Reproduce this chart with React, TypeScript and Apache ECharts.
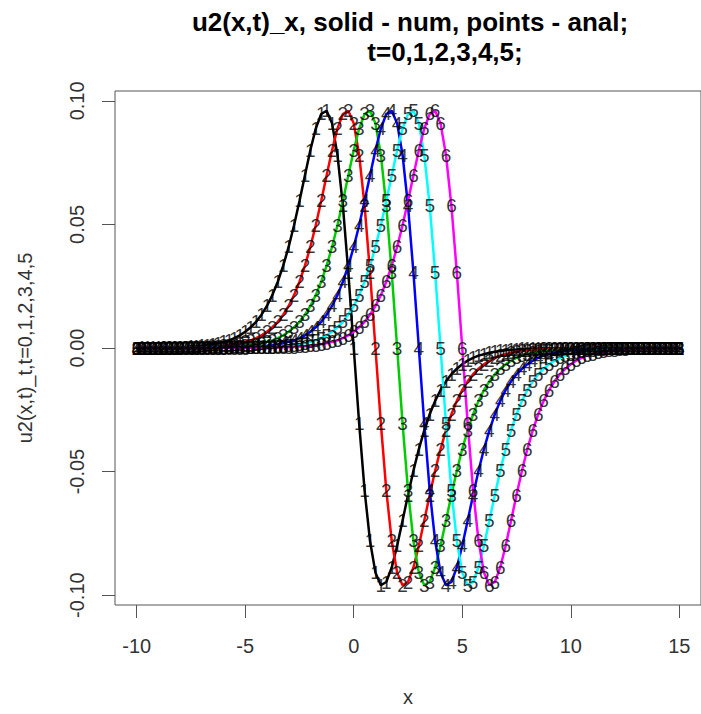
import { useEffect, useRef } from "react";
import * as echarts from "echarts";

// x grid of the sampled points
const xValues = [
  -10, -9.75, -9.5, -9.25, -9, -8.75, -8.5, -8.25, -8, -7.75,
  -7.5, -7.25, -7, -6.75, -6.5, -6.25, -6, -5.75, -5.5, -5.25,
  -5, -4.75, -4.5, -4.25, -4, -3.75, -3.5, -3.25, -3, -2.75,
  -2.5, -2.25, -2, -1.75, -1.5, -1.25, -1, -0.75, -0.5, -0.25,
  0,
  0.25, 0.5, 0.75, 1, 1.25, 1.5, 1.75, 2, 2.25, 2.5,
  2.75, 3, 3.25, 3.5, 3.75, 4, 4.25, 4.5, 4.75, 5,
  5.25, 5.5, 5.75, 6, 6.25, 6.5, 6.75, 7, 7.25, 7.5,
  7.75, 8, 8.25, 8.5, 8.75, 9, 9.25, 9.5, 9.75, 10,
  10.25, 10.5, 10.75, 11, 11.25, 11.5, 11.75, 12, 12.25, 12.5,
  12.75, 13, 13.25, 13.5, 13.75, 14, 14.25, 14.5, 14.75, 15,
];

// u2(x,t)_x, t = 0
const uT0 = [
  0, 0.0001, 0.0001, 0.0001, 0.0001, 0.0002, 0.0002, 0.0003, 0.0003, 0.0004,
  0.0006, 0.0007, 0.0009, 0.0012, 0.0015, 0.0019, 0.0025, 0.0031, 0.004, 0.0051,
  0.0066, 0.0084, 0.0106, 0.0135, 0.017, 0.0214, 0.0268, 0.0333, 0.0409, 0.0497,
  0.0595, 0.0698, 0.08, 0.0888, 0.0947, 0.096, 0.0909, 0.0781, 0.0576, 0.0306,
  0,
  -0.0306, -0.0576, -0.0781, -0.0909, -0.096, -0.0947, -0.0888, -0.08, -0.0698, -0.0595,
  -0.0497, -0.0409, -0.0333, -0.0268, -0.0214, -0.017, -0.0135, -0.0106, -0.0084, -0.0066,
  -0.0051, -0.004, -0.0031, -0.0025, -0.0019, -0.0015, -0.0012, -0.0009, -0.0007, -0.0006,
  -0.0004, -0.0003, -0.0003, -0.0002, -0.0002, -0.0001, -0.0001, -0.0001, -0.0001, 0,
  0, 0, 0, 0, 0, 0, 0, 0, 0, 0,
  0, 0, 0, 0, 0, 0, 0, 0, 0, 0,
];

// t = 1
const uT1 = [
  0, 0, 0, 0,
  0, 0.0001, 0.0001, 0.0001, 0.0001, 0.0002, 0.0002, 0.0003, 0.0003, 0.0004,
  0.0006, 0.0007, 0.0009, 0.0012, 0.0015, 0.0019, 0.0025, 0.0031, 0.004, 0.0051,
  0.0066, 0.0084, 0.0106, 0.0135, 0.017, 0.0214, 0.0268, 0.0333, 0.0409, 0.0497,
  0.0595, 0.0698, 0.08, 0.0888, 0.0947, 0.096, 0.0909, 0.0781, 0.0576, 0.0306,
  0,
  -0.0306, -0.0576, -0.0781, -0.0909, -0.096, -0.0947, -0.0888, -0.08, -0.0698, -0.0595,
  -0.0497, -0.0409, -0.0333, -0.0268, -0.0214, -0.017, -0.0135, -0.0106, -0.0084, -0.0066,
  -0.0051, -0.004, -0.0031, -0.0025, -0.0019, -0.0015, -0.0012, -0.0009, -0.0007, -0.0006,
  -0.0004, -0.0003, -0.0003, -0.0002, -0.0002, -0.0001, -0.0001, -0.0001, -0.0001, 0,
  0, 0, 0, 0, 0, 0, 0, 0, 0, 0,
  0, 0, 0, 0, 0, 0,
];

// t = 2
const uT2 = [
  0, 0, 0, 0, 0, 0, 0, 0,
  0, 0.0001, 0.0001, 0.0001, 0.0001, 0.0002, 0.0002, 0.0003, 0.0003, 0.0004,
  0.0006, 0.0007, 0.0009, 0.0012, 0.0015, 0.0019, 0.0025, 0.0031, 0.004, 0.0051,
  0.0066, 0.0084, 0.0106, 0.0135, 0.017, 0.0214, 0.0268, 0.0333, 0.0409, 0.0497,
  0.0595, 0.0698, 0.08, 0.0888, 0.0947, 0.096, 0.0909, 0.0781, 0.0576, 0.0306,
  0,
  -0.0306, -0.0576, -0.0781, -0.0909, -0.096, -0.0947, -0.0888, -0.08, -0.0698, -0.0595,
  -0.0497, -0.0409, -0.0333, -0.0268, -0.0214, -0.017, -0.0135, -0.0106, -0.0084, -0.0066,
  -0.0051, -0.004, -0.0031, -0.0025, -0.0019, -0.0015, -0.0012, -0.0009, -0.0007, -0.0006,
  -0.0004, -0.0003, -0.0003, -0.0002, -0.0002, -0.0001, -0.0001, -0.0001, -0.0001, 0,
  0, 0, 0, 0, 0, 0, 0, 0, 0, 0,
  0, 0,
];

// t = 3
const uT3 = [
  0, 0, 0, 0, 0, 0, 0, 0, 0, 0, 0, 0,
  0, 0.0001, 0.0001, 0.0001, 0.0001, 0.0002, 0.0002, 0.0003, 0.0003, 0.0004,
  0.0006, 0.0007, 0.0009, 0.0012, 0.0015, 0.0019, 0.0025, 0.0031, 0.004, 0.0051,
  0.0066, 0.0084, 0.0106, 0.0135, 0.017, 0.0214, 0.0268, 0.0333, 0.0409, 0.0497,
  0.0595, 0.0698, 0.08, 0.0888, 0.0947, 0.096, 0.0909, 0.0781, 0.0576, 0.0306,
  0,
  -0.0306, -0.0576, -0.0781, -0.0909, -0.096, -0.0947, -0.0888, -0.08, -0.0698, -0.0595,
  -0.0497, -0.0409, -0.0333, -0.0268, -0.0214, -0.017, -0.0135, -0.0106, -0.0084, -0.0066,
  -0.0051, -0.004, -0.0031, -0.0025, -0.0019, -0.0015, -0.0012, -0.0009, -0.0007, -0.0006,
  -0.0004, -0.0003, -0.0003, -0.0002, -0.0002, -0.0001, -0.0001, -0.0001, -0.0001, 0,
  0, 0, 0, 0, 0, 0, 0, 0,
];

// t = 4
const uT4 = [
  0, 0, 0, 0, 0, 0, 0, 0, 0, 0, 0, 0, 0, 0, 0, 0,
  0, 0.0001, 0.0001, 0.0001, 0.0001, 0.0002, 0.0002, 0.0003, 0.0003, 0.0004,
  0.0006, 0.0007, 0.0009, 0.0012, 0.0015, 0.0019, 0.0025, 0.0031, 0.004, 0.0051,
  0.0066, 0.0084, 0.0106, 0.0135, 0.017, 0.0214, 0.0268, 0.0333, 0.0409, 0.0497,
  0.0595, 0.0698, 0.08, 0.0888, 0.0947, 0.096, 0.0909, 0.0781, 0.0576, 0.0306,
  0,
  -0.0306, -0.0576, -0.0781, -0.0909, -0.096, -0.0947, -0.0888, -0.08, -0.0698, -0.0595,
  -0.0497, -0.0409, -0.0333, -0.0268, -0.0214, -0.017, -0.0135, -0.0106, -0.0084, -0.0066,
  -0.0051, -0.004, -0.0031, -0.0025, -0.0019, -0.0015, -0.0012, -0.0009, -0.0007, -0.0006,
  -0.0004, -0.0003, -0.0003, -0.0002, -0.0002, -0.0001, -0.0001, -0.0001, -0.0001, 0,
  0, 0, 0, 0,
];

// t = 5
const uT5 = [
  0, 0, 0, 0, 0, 0, 0, 0, 0, 0, 0, 0, 0, 0, 0, 0, 0, 0, 0, 0,
  0, 0.0001, 0.0001, 0.0001, 0.0001, 0.0002, 0.0002, 0.0003, 0.0003, 0.0004,
  0.0006, 0.0007, 0.0009, 0.0012, 0.0015, 0.0019, 0.0025, 0.0031, 0.004, 0.0051,
  0.0066, 0.0084, 0.0106, 0.0135, 0.017, 0.0214, 0.0268, 0.0333, 0.0409, 0.0497,
  0.0595, 0.0698, 0.08, 0.0888, 0.0947, 0.096, 0.0909, 0.0781, 0.0576, 0.0306,
  0,
  -0.0306, -0.0576, -0.0781, -0.0909, -0.096, -0.0947, -0.0888, -0.08, -0.0698, -0.0595,
  -0.0497, -0.0409, -0.0333, -0.0268, -0.0214, -0.017, -0.0135, -0.0106, -0.0084, -0.0066,
  -0.0051, -0.004, -0.0031, -0.0025, -0.0019, -0.0015, -0.0012, -0.0009, -0.0007, -0.0006,
  -0.0004, -0.0003, -0.0003, -0.0002, -0.0002, -0.0001, -0.0001, -0.0001, -0.0001, 0,
];

const curves = [uT0, uT1, uT2, uT3, uT4, uT5];
const curveColors = ["#000000", "#FF0000", "#00CD00", "#0000FF", "#00FFFF", "#FF00FF"];
const pointLabels = ["1", "2", "3", "4", "5", "6"];
const xTicks = [-10, -5, 0, 5, 10, 15];
const yTicks = [-0.1, -0.05, 0, 0.05, 0.1];
const titleLine1 = "u2(x,t)_x, solid - num, points - anal;";
const titleLine2 = "t=0,1,2,3,4,5;";
const xName = "x";
const yName = "u2(x,t)_t,t=0,1,2,3,4,5";

const FONT = '"Liberation Sans", Arial, Helvetica, sans-serif';

export default function App() {
  const ref = useRef<HTMLDivElement>(null);

  useEffect(() => {
    if (!ref.current) return;
    const chart = echarts.init(ref.current, null, { renderer: "svg" });

    const series: any[] = [];
    curves.forEach((ys, k) => {
      const data = xValues.map((x, i) => [x, ys[i]]);
      series.push({
        type: "line",
        data,
        showSymbol: false,
        symbol: "none",
        silent: true,
        lineStyle: { color: curveColors[k], width: 2.5 },
        itemStyle: { color: curveColors[k] },
        z: 2,
      });
      series.push({
        type: "scatter",
        data,
        symbol: "circle",
        symbolSize: 1,
        silent: true,
        itemStyle: { color: "rgba(0,0,0,0)" },
        label: {
          show: true,
          position: "inside",
          formatter: pointLabels[k],
          color: "#000",
          fontSize: 19,
          fontFamily: FONT,
        },
        emphasis: { disabled: true },
        z: 2,
      });
    });

    chart.setOption({
      animation: false,
      backgroundColor: "#ffffff",
      grid: {
        left: 115,
        top: 91,
        width: 593,
        height: 514,
        show: true,
        borderColor: "#555555",
        borderWidth: 1,
        backgroundColor: "transparent",
      },
      xAxis: {
        type: "value",
        min: -11,
        max: 16,
        splitLine: { show: false },
        axisLine: { show: false, onZero: false },
        axisTick: {
          show: true,
          length: 13,
          customValues: xTicks,
          lineStyle: { color: "#555555", width: 1 },
        },
        axisLabel: {
          customValues: xTicks,
          fontSize: 20,
          color: "#333",
          fontFamily: FONT,
          margin: 31,
        },
        name: xName,
        nameLocation: "middle",
        nameGap: 82,
        nameTextStyle: { fontSize: 20, color: "#333", fontFamily: FONT },
      },
      yAxis: {
        type: "value",
        min: -0.104,
        max: 0.104,
        splitLine: { show: false },
        axisLine: { show: false, onZero: false },
        axisTick: {
          show: true,
          length: 13,
          customValues: yTicks,
          lineStyle: { color: "#555555", width: 1 },
        },
        axisLabel: {
          customValues: yTicks,
          rotate: 90,
          fontSize: 20,
          color: "#333",
          fontFamily: FONT,
          margin: 28,
          formatter: (v: number) => v.toFixed(2),
        },
        name: yName,
        nameLocation: "middle",
        nameRotate: 90,
        nameGap: 80,
        nameTextStyle: { fontSize: 20, color: "#333", fontFamily: FONT },
      },
      graphic: [
        {
          type: "text",
          x: 410,
          y: 22,
          style: {
            text: titleLine1,
            font: `bold 26px ${FONT}`,
            fill: "#000",
            align: "center",
            verticalAlign: "middle",
            textAlign: "center",
            textVerticalAlign: "middle",
          },
        },
        {
          type: "text",
          x: 445,
          y: 52,
          style: {
            text: titleLine2,
            font: `bold 26px ${FONT}`,
            fill: "#000",
            align: "center",
            verticalAlign: "middle",
            textAlign: "center",
            textVerticalAlign: "middle",
          },
        },
      ],
      series,
    });

    return () => chart.dispose();
  }, []);

  return (
    <div
      ref={ref}
      style={{ position: "absolute", left: 0, top: 0, width: 701, height: 714, background: "#fff" }}
    />
  );
}
